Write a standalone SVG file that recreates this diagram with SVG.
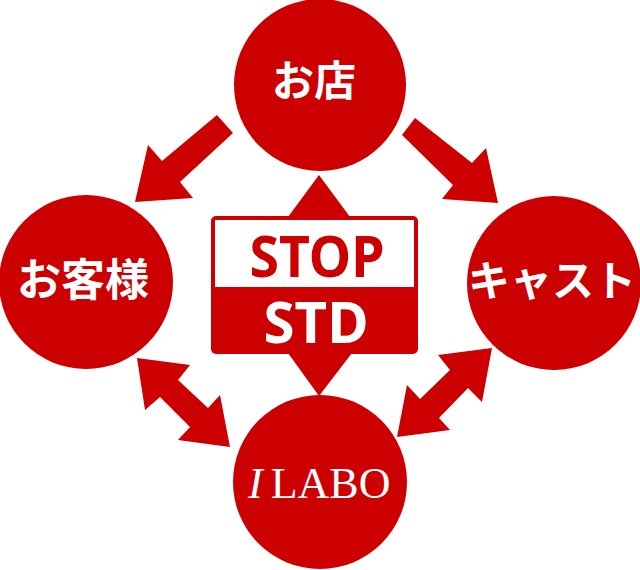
<svg xmlns="http://www.w3.org/2000/svg" width="640" height="570" viewBox="0 0 640 570">
<style>
.n{fill:#cc0000}
.jp{font-family:"Noto Sans CJK JP","Noto Sans",sans-serif;font-weight:bold;fill:#fff;text-anchor:middle}
.lab{font-family:"Liberation Serif","Times New Roman",serif;fill:#fff}
.st{font-family:"Noto Sans","Open Sans",sans-serif;font-weight:bold;text-anchor:middle}
</style>
<rect width="640" height="570" fill="#fff"/>
<g id="connectors" class="n">
<polygon points="217,115 162,161 148,145 135,202 193,198 180,182 233,133"/>
<polygon points="415,118 472,163 486,148 498,203 442,199 453,185 402,135"/>
<polygon points="137,358 190,365 178,380 208,408 220,395 230,447 178,440 190,427 160,397 145,410"/>
<polygon points="492,348 482,402 468,388 439,418 450,430 397,437 407,385 420,399 450,370 438,355"/>
<polygon points="319,175 350,217 288,217"/>
<polygon points="288,353 352,353 319,396"/>
</g>
<g id="shop">
<circle class="n" cx="320" cy="85" r="86"/>
<text class="jp" x="314" y="96" font-size="42">お店</text>
</g>
<g id="customer">
<circle class="n" cx="86" cy="282" r="87"/>
<text class="jp" x="83" y="296" font-size="44">お客様</text>
</g>
<g id="cast">
<circle class="n" cx="554" cy="283" r="87"/>
<text class="jp" x="552" y="296" font-size="42">キャスト</text>
</g>
<g id="ilabo">
<circle class="n" cx="320" cy="482" r="87"/>
<text class="lab" x="248" y="498" font-size="44"><tspan font-style="italic">I</tspan><tspan dx="8">LABO</tspan></text>
</g>
<g id="stop">
<rect x="211" y="216" width="207" height="138" rx="5" class="n"/>
<rect x="215" y="220" width="199" height="67" fill="#fff"/>
<text class="st" x="317" y="277" font-size="58" fill="#cc0000" textLength="135" lengthAdjust="spacingAndGlyphs">STOP</text>
<text class="st" x="316" y="343" font-size="58" fill="#fff" textLength="105" lengthAdjust="spacingAndGlyphs">STD</text>
</g>
</svg>
